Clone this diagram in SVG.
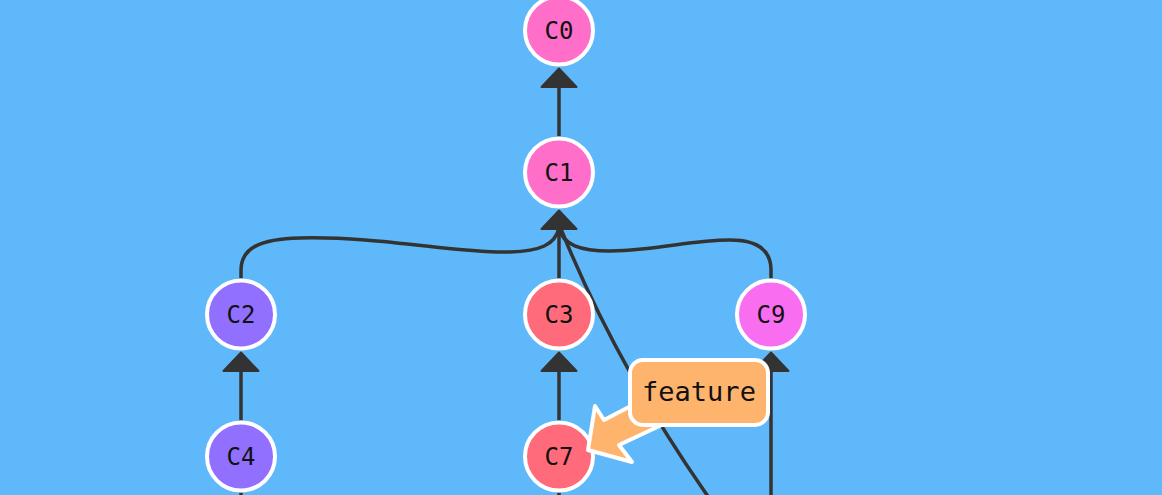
<svg xmlns="http://www.w3.org/2000/svg" width="1162" height="495" viewBox="0 0 1162 495">
<style>
.edge{fill:none;stroke:#333;stroke-width:3.5;stroke-linecap:butt}
.head{fill:#333;stroke:#333;stroke-width:2;stroke-linejoin:round}
.node circle{stroke:#fff;stroke-width:4}
.node text{font-family:"DejaVu Sans Mono","Liberation Mono",monospace;font-size:24px;fill:#111;text-anchor:middle}
.pink{fill:#ff6ec8}
.mag{fill:#f96ef0}
.purple{fill:#9170ff}
.red{fill:#ff6b7b}
.label rect,.label polygon{fill:#ffb46e;stroke:#fff;stroke-width:4;stroke-linejoin:round}
.label text{font-family:"DejaVu Sans Mono","Liberation Mono",monospace;font-size:27px;fill:#111;text-anchor:middle}
</style>
<rect width="1162" height="495" fill="#5fb8f9"/>
<g id="connectors">
<path class="edge" d="M559,136.5 L559,86"/>
<path class="edge" d="M559,278.5 L559,228"/>
<path class="edge" d="M241,278.5 L241,270 C241,248 260,239 300,238 C380,236 460,254 510,252 C540,251 555,245 559,228"/>
<path class="edge" d="M771,278.5 L771,270 C771,252 760,240 730,240 C690,240 660,250 610,251 C580,251 563,245 559,228"/>
<path class="edge" d="M561,229 Q615,363 707,495 L712,503"/>
<path class="edge" d="M241,420.5 L241,370"/>
<path class="edge" d="M559,420.5 L559,370"/>
<path class="edge" d="M771,370 L771,500"/>
<path class="edge" d="M241,492.5 L241,500"/>
<path class="edge" d="M559,492.5 L559,500"/>
<polygon class="head" points="559,68.5 541.5,87 576.5,87"/>
<polygon class="head" points="559,210.5 541.5,229 576.5,229"/>
<polygon class="head" points="241,352.5 223.5,371 258.5,371"/>
<polygon class="head" points="559,352.5 541.5,371 576.5,371"/>
<polygon class="head" points="771,352.5 753.5,371 788.5,371"/>
</g>
<g id="C0" class="node"><circle class="pink" cx="559" cy="30.5" r="34"/><text x="559" y="39">C0</text></g>
<g id="C1" class="node"><circle class="pink" cx="559" cy="172.5" r="34"/><text x="559" y="181">C1</text></g>
<g id="C2" class="node"><circle class="purple" cx="241" cy="314.5" r="34"/><text x="241" y="323">C2</text></g>
<g id="C3" class="node"><circle class="red" cx="559" cy="314.5" r="34"/><text x="559" y="323">C3</text></g>
<g id="C9" class="node"><circle class="mag" cx="771" cy="314.5" r="34"/><text x="771" y="323">C9</text></g>
<g id="C4" class="node"><circle class="purple" cx="241" cy="456.5" r="34"/><text x="241" y="465">C4</text></g>
<g id="C7" class="node"><circle class="red" cx="559" cy="456.5" r="34"/><text x="559" y="465">C7</text></g>
<g id="feature" class="label">
<polygon points="588,450 595,406 604,420 652,395 668,422 619,445 632,462"/>
<rect x="630" y="360" width="138" height="65" rx="13" ry="13"/>
<text x="699" y="401">feature</text>
</g>
</svg>
